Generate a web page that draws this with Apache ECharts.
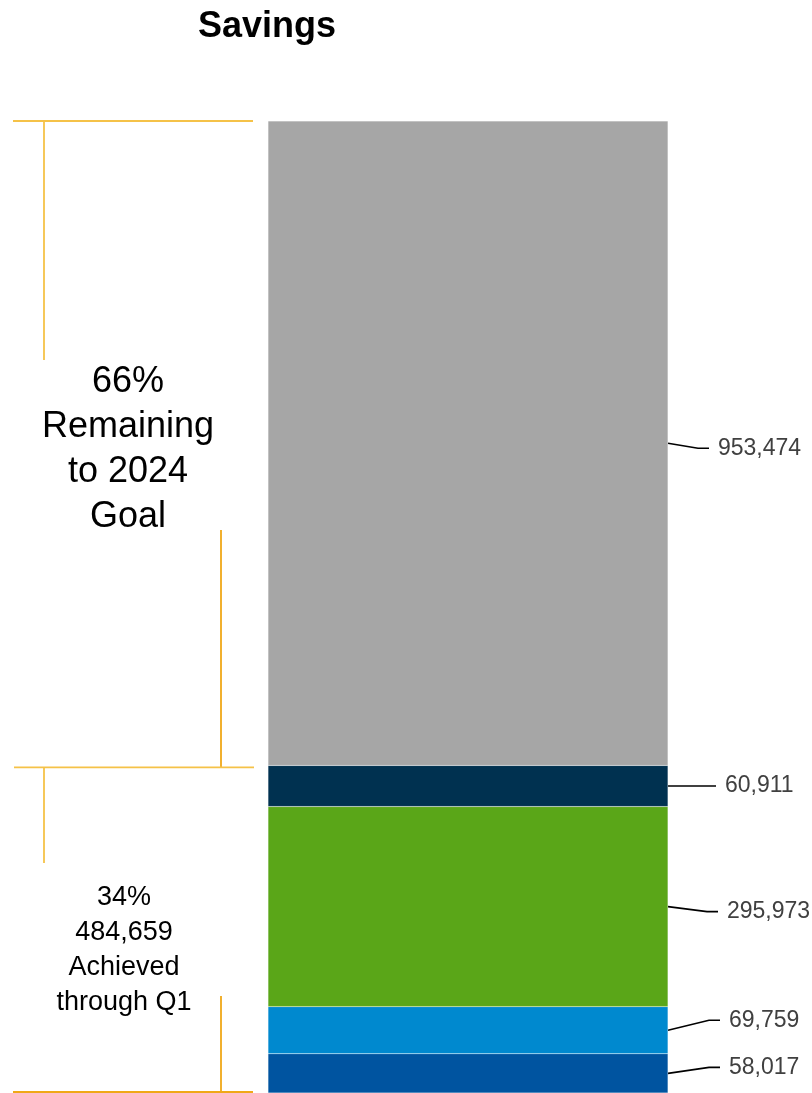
<!DOCTYPE html>
<html>
<head>
<meta charset="utf-8">
<script src="https://cdn.jsdelivr.net/npm/echarts@6/dist/echarts.min.js"></script>
<style>html,body{margin:0;padding:0;background:#fff;}#c{width:812px;height:1093px;}</style>
</head>
<body>
<div id="c"></div>
<script>
// Data (bottom to top of the stacked bar)
var categories = ['Savings'];
var segmentNames = ['Segment 1', 'Segment 2', 'Segment 3', 'Segment 4', 'Remaining'];
var segmentValues = [58017, 69759, 295973, 60911, 953474];
var segmentColors = ['#0054A0', '#0089CF', '#5AA618', '#003150', '#A6A6A6'];
var achievedText = ['34%', '484,659', 'Achieved', 'through Q1'];
var remainingText = ['66%', 'Remaining', 'to 2024', 'Goal'];
var titleText = 'Savings';

// label placement tweaks (distance from bar, vertical shift)
var labelDist = [61, 61, 59, 57, 50];
var labelDy = [-6, -10, 5, 0, 5];

var total = segmentValues.reduce(function (a, b) { return a + b; }, 0);
var FONT = '"Liberation Sans", Arial, sans-serif';

var chart = echarts.init(document.getElementById('c'), null, { renderer: 'canvas' });

var series = segmentValues.map(function (v, i) {
  return {
    name: segmentNames[i],
    type: 'bar',
    stack: 'total',
    barWidth: '100%',
    data: [v],
    itemStyle: { color: segmentColors[i], borderColor: 'rgba(255,255,255,0.25)', borderWidth: 0.5 },
    label: {
      show: true,
      position: 'right',
      distance: labelDist[i],
      offset: [0, labelDy[i]],
      color: '#404040',
      fontSize: 23,
      fontFamily: FONT,
      formatter: function (p) { return p.value.toLocaleString('en-US'); }
    },
    emphasis: { disabled: true },
    animation: false
  };
});

chart.setOption({
  backgroundColor: '#ffffff',
  animation: false,
  title: {
    text: titleText,
    left: 198,
    top: 9,
    padding: 0,
    textStyle: { fontSize: 36, fontWeight: 'bold', color: '#000', fontFamily: FONT }
  },
  grid: { left: 268, right: 144, top: 121, bottom: 0 },
  xAxis: { type: 'category', data: categories, show: false },
  yAxis: { type: 'value', min: 0, max: total, show: false },
  series: series
});

// leader lines and bracket annotations, positioned via the chart's scales
var gridRight = 668;
var els = [];
var cum = 0;
segmentValues.forEach(function (v, i) {
  var yMid = chart.convertToPixel({ yAxisIndex: 0 }, cum + v / 2);
  cum += v;
  var yEnd = yMid + labelDy[i];
  var xText = gridRight + labelDist[i];
  els.push({
    type: 'polyline',
    shape: { points: [[gridRight, yMid], [xText - 20, yEnd], [xText - 9, yEnd]] },
    style: { stroke: '#000', lineWidth: 1.6, fill: null },
    silent: true
  });
});

var achieved = segmentValues.slice(0, 4).reduce(function (a, b) { return a + b; }, 0);
var yTop = chart.convertToPixel({ yAxisIndex: 0 }, total);
var yMidB = chart.convertToPixel({ yAxisIndex: 0 }, achieved);
var yBot = chart.convertToPixel({ yAxisIndex: 0 }, 0) - 1;
var light = '#F5C248', dark = '#F0A818';
function line(x1, y1, x2, y2, c, w) {
  els.push({ type: 'line', shape: { x1: x1, y1: y1, x2: x2, y2: y2 }, style: { stroke: c, lineWidth: w || 1.8 }, silent: true });
}
line(13, yTop, 253, yTop, light);
line(44, yTop, 44, 360, light);
line(221, 530, 221, yMidB + 2, dark);
line(14, yMidB + 2, 254, yMidB + 2, light);
line(44, yMidB + 2, 44, 863, light);
line(221, 996, 221, yBot, dark);
line(13, yBot, 253, yBot, dark);

els.push({
  type: 'text', x: 128, y: 450,
  style: { text: remainingText.join('\n'), font: '36px ' + FONT, lineHeight: 45, fill: '#000', align: 'center', verticalAlign: 'middle' },
  silent: true
});
els.push({
  type: 'text', x: 124, y: 950,
  style: { text: achievedText.join('\n'), font: '27px ' + FONT, lineHeight: 35, fill: '#000', align: 'center', verticalAlign: 'middle' },
  silent: true
});

chart.setOption({ graphic: { elements: els } });
</script>
</body>
</html>
